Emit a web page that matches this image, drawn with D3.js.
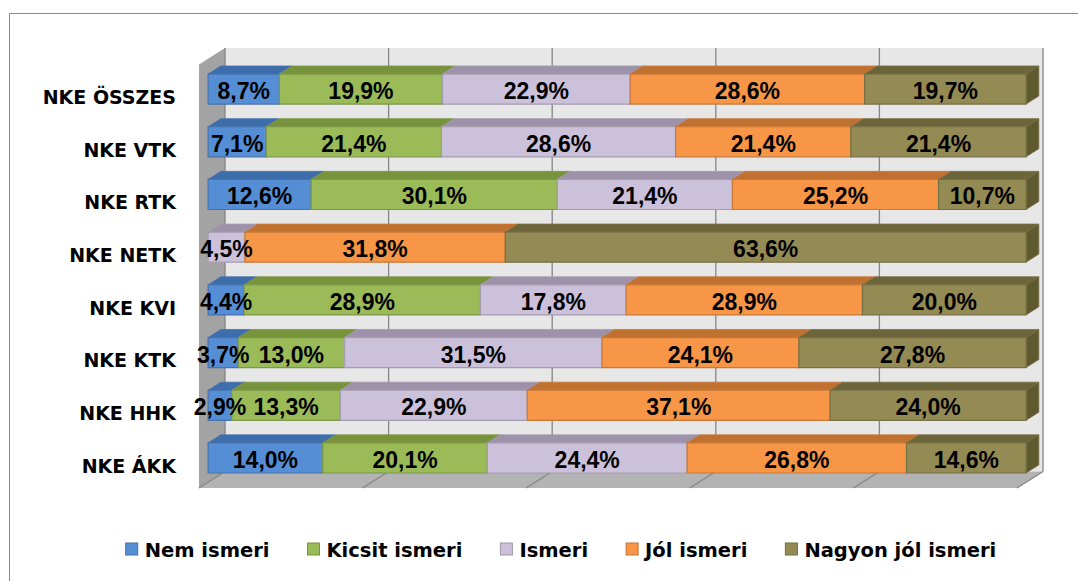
<!DOCTYPE html>
<html>
<head>
<meta charset="utf-8">
<script src="https://cdn.jsdelivr.net/npm/d3@7"></script>
<style>
  body { margin: 0; background: #fff; }
  svg { display: block; }
</style>
</head>
<body>
<svg id="chart" width="1078" height="581"></svg>
<script>
// data (percent values per category, top to bottom)
const categories = ["NKE ÖSSZES", "NKE VTK", "NKE RTK", "NKE NETK", "NKE KVI", "NKE KTK", "NKE HHK", "NKE ÁKK"];
const seriesNames = ["Nem ismeri", "Kicsit ismeri", "Ismeri", "Jól ismeri", "Nagyon jól ismeri"];
const nemIsmeri = [8.7, 7.1, 12.6, 0, 4.4, 3.7, 2.9, 14.0];
const kicsitIsmeri = [19.9, 21.4, 30.1, 0, 28.9, 13.0, 13.3, 20.1];
const ismeri = [22.9, 28.6, 21.4, 4.5, 17.8, 31.5, 22.9, 24.4];
const jolIsmeri = [28.6, 21.4, 25.2, 31.8, 28.9, 24.1, 37.1, 26.8];
const nagyonJolIsmeri = [19.7, 21.4, 10.7, 63.6, 20.0, 27.8, 24.0, 14.6];
const xTicks = [0, 0.2, 0.4, 0.6, 0.8, 1];

const series = [nemIsmeri, kicsitIsmeri, ismeri, jolIsmeri, nagyonJolIsmeri];
const frontColors = ["#558ed5", "#9bbb59", "#ccc1da", "#f79646", "#948a54"];
const topColors = ["#3e6dab", "#77933c", "#9d92aa", "#c0712f", "#6c6539"];
const sideColors = ["#345c90", "#617a31", "#857a92", "#a65f25", "#5f5930"];

// 3d frame
const DX = 26, DY = 16.5; // full wall depth
const F0 = 0.35, F1 = 0.84; // bar depth range
const floorY = 488, wallTop = 64.5;

const x = d3.scaleLinear().domain([0, 1]).range([199, 1017]);
const y = d3.scaleBand().domain(categories).range([68.5, 490.1]).paddingInner(0.43).paddingOuter(0.215);
const p = (v, py, d) => [x(v) + d * DX, py - d * DY];

const svg = d3.select("#chart");

// outer chart border
svg.append("rect")
  .attr("x", 9.5).attr("y", 13.5)
  .attr("width", 1100).attr("height", 600)
  .attr("fill", "#fff").attr("stroke", "#8a8a8a");

const walls = svg.append("g").attr("id", "walls");
walls.append("polygon")
  .attr("points", [p(0, wallTop, 1), p(1, wallTop, 1), p(1, floorY, 1), p(0, floorY, 1)].join(" "))
  .attr("fill", "#e7e7e7");
walls.append("polygon")
  .attr("points", [p(0, wallTop, 0), p(0, wallTop, 1), p(0, floorY, 1), p(0, floorY, 0)].join(" "))
  .attr("fill", "#a3a3a3");
walls.append("polygon")
  .attr("points", [p(0, floorY, 0), p(1, floorY, 0), p(1, floorY, 1), p(0, floorY, 1)].join(" "))
  .attr("fill", "#b3b3b3");

// gridlines on back wall and floor
const grid = svg.append("g").attr("id", "grid").attr("stroke", "#858585").attr("stroke-width", 1.3);
grid.selectAll("line.wall").data(xTicks).join("line").attr("class", "wall")
  .attr("x1", d => p(d, wallTop, 1)[0]).attr("y1", d => p(d, wallTop, 1)[1])
  .attr("x2", d => p(d, floorY, 1)[0]).attr("y2", d => p(d, floorY, 1)[1]);
grid.selectAll("line.floor").data(xTicks).join("line").attr("class", "floor")
  .attr("x1", d => p(d, floorY, 0)[0]).attr("y1", d => p(d, floorY, 0)[1])
  .attr("x2", d => p(d, floorY, 1)[0]).attr("y2", d => p(d, floorY, 1)[1]);

// stacked, normalised segments
const segs = [];
categories.forEach((c, i) => {
  const vals = series.map(s => s[i]);
  const total = d3.sum(vals);
  let acc = 0;
  vals.forEach((v, k) => {
    const x0 = acc / total;
    acc += v;
    if (v > 0) segs.push({ c, k, v, x0, x1: acc / total, last: acc >= total - 1e-9 });
  });
});

const bars = svg.append("g").attr("id", "bars");
const bw = y.bandwidth();
segs.forEach(s => {
  const yt = y(s.c), yb = yt + bw;
  const g = bars.append("g");
  const stroke = d3.color(frontColors[s.k]).darker(0.6);
  g.append("polygon")
    .attr("points", [p(s.x0, yt, F0), p(s.x1, yt, F0), p(s.x1, yt, F1), p(s.x0, yt, F1)].join(" "))
    .attr("fill", topColors[s.k]).attr("stroke", stroke).attr("stroke-width", 0.8);
  if (s.last) {
    g.append("polygon")
      .attr("points", [p(s.x1, yt, F0), p(s.x1, yt, F1), p(s.x1, yb, F1), p(s.x1, yb, F0)].join(" "))
      .attr("fill", sideColors[s.k]).attr("stroke", stroke).attr("stroke-width", 0.8);
  }
  g.append("polygon")
    .attr("points", [p(s.x0, yt, F0), p(s.x1, yt, F0), p(s.x1, yb, F0), p(s.x0, yb, F0)].join(" "))
    .attr("fill", frontColors[s.k]).attr("stroke", stroke).attr("stroke-width", 1.2);
});

// data labels
const fmt = v => d3.format(".1f")(v).replace(".", ",") + "%";
svg.append("g").attr("id", "dataLabels")
  .selectAll("text").data(segs).join("text")
  .attr("x", s => (p(s.x0, 0, F0)[0] + p(s.x1, 0, F0)[0]) / 2)
  .attr("y", s => y(s.c) - F0 * DY + bw / 2 + 2)
  .attr("text-anchor", "middle").attr("dominant-baseline", "central")
  .attr("font-family", "Liberation Sans, Arial, sans-serif").attr("font-weight", "bold")
  .attr("font-size", 23).attr("fill", "#000")
  .text(s => fmt(s.v));

// category labels
svg.append("g").attr("id", "catLabels")
  .selectAll("text").data(categories).join("text")
  .attr("x", 176)
  .attr("y", c => y(c) + bw / 2 + 2)
  .attr("text-anchor", "end").attr("dominant-baseline", "central")
  .attr("font-family", "DejaVu Sans, sans-serif").attr("font-weight", "bold")
  .attr("font-size", 19).attr("fill", "#000")
  .text(c => c);

// legend
const legend = svg.append("g").attr("id", "legend");
const items = legend.selectAll("g").data(seriesNames).join("g");
items.append("rect")
  .attr("x", 0).attr("y", -6).attr("width", 12).attr("height", 12)
  .attr("fill", (d, i) => frontColors[i])
  .attr("stroke", (d, i) => d3.color(frontColors[i]).darker(0.7));
items.append("text")
  .attr("x", 19).attr("y", 1)
  .attr("dominant-baseline", "central")
  .attr("font-family", "DejaVu Sans, sans-serif").attr("font-weight", "bold")
  .attr("font-size", 19.5).attr("fill", "#000")
  .text(d => d);
const widths = [];
items.each(function () { widths.push(19 + d3.select(this).select("text").node().getComputedTextLength()); });
const gap = 38;
const total = d3.sum(widths) + gap * (widths.length - 1);
let lx = 561 - total / 2;
items.attr("transform", (d, i) => {
  const t = `translate(${lx},549)`;
  lx += widths[i] + gap;
  return t;
});
</script>
</body>
</html>
